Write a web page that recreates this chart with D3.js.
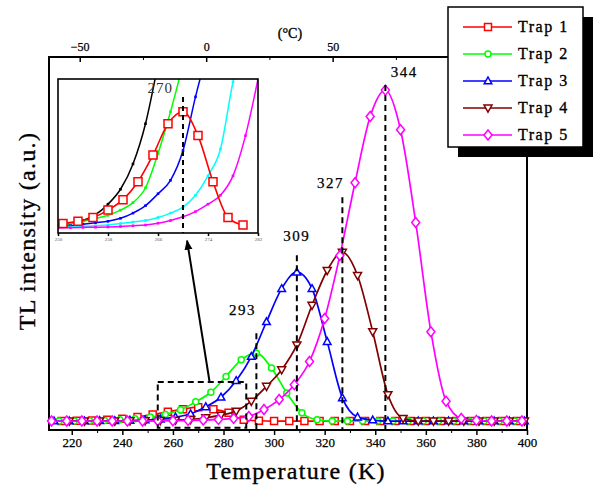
<!DOCTYPE html>
<html>
<head>
<meta charset="utf-8">
<script src="https://cdn.jsdelivr.net/npm/d3@7"></script>
<style>
  html, body { margin: 0; padding: 0; background: #fff; }
  svg { display: block; font-family: "Liberation Serif", "Times New Roman", serif; }
  .heavy { stroke: #000; stroke-width: 0.35px; paint-order: stroke; }
</style>
</head>
<body>
<svg id="chart" width="597" height="495"></svg>
<script>
// ---------- Main panel: TL glow curves, temperature (K) vs intensity (a.u.) ----------
const trap1T = [216,222,228,234,240,246,252,258,264,270,276,282,288,294,300,306,312,318,324,330,336,342,348,354,360,366,372,378,384,390,396];
const trap1I = [0,0.001,0.002,0.004,0.007,0.012,0.02,0.028,0.036,0.042,0.036,0.025,0.004,0.001,0,0,0,0,0,0,0,0,0,0,0,0,0,0,0,0,0];

const trap2T = [215,221,227,233,239,245,251,257,263,269,275,281,287,293,299,305,311,317,323,329,335,341,347,353,359,365,371,377,383,389,395];
const trap2I = [0,0,0.001,0.002,0.004,0.007,0.012,0.02,0.034,0.058,0.087,0.135,0.185,0.205,0.16,0.085,0.025,0.004,0,0,0,0,0,0,0,0,0,0,0,0,0];

const trap3T = [213,219,225,231,237,243,249,255,261,267,273,279,285,291,297,303,309,315,321,327,333,339,345,351,357,363,369,375,381,387,393,399];
const trap3I = [0,0,0,0.001,0.001,0.002,0.003,0.006,0.012,0.022,0.043,0.072,0.122,0.195,0.30,0.40,0.45,0.40,0.24,0.07,0.012,0.003,0,0,0,0,0,0,0,0,0,0];

const trap4T = [219,225,231,237,243,249,255,261,267,273,279,285,291,297,303,309,315,321,327,333,339,345,351,357,363,369,375,381,387,393,399];
const trap4I = [0,0,0,0,0.001,0.001,0.002,0.003,0.005,0.01,0.018,0.03,0.06,0.105,0.155,0.23,0.35,0.455,0.51,0.44,0.27,0.08,0.008,0,0,0,0,0,0,0,0];

const trap5T = [212,218,224,230,236,242,248,254,260,266,272,278,284,290,296,302,308,314,320,326,332,338,344,350,356,362,368,374,380,386,392,398];
const trap5I = [0,0,0,0,0,0,0,0.001,0.001,0.002,0.003,0.005,0.008,0.014,0.035,0.065,0.11,0.18,0.31,0.50,0.72,0.92,1.0,0.88,0.60,0.27,0.06,0.008,0.002,0,0,0];

const seriesNames  = ["Trap 1", "Trap 2", "Trap 3", "Trap 4", "Trap 5"];
const seriesColors = ["#ff0000", "#00ff00", "#0000ff", "#800000", "#ff00ff"];
const seriesShapes = ["square", "circle", "triUp", "triDown", "diamond"];

// peak annotations (index into the series list)
const peakSeries = [1, 2, 3, 4];

const bottomTicks = [220, 240, 260, 280, 300, 320, 340, 360, 380, 400];
const bottomMinor = [230, 250, 270, 290, 310, 330, 350, 370, 390];
const topTicks = [-50, 0, 50, 100];
const topMinor = [-25, 25, 75];

// ---------- Inset: low-temperature region around the Trap 1 peak ----------
const insetTicks = [250, 258, 266, 274, 282];
const insetRedT = [250.8,253.2,255.6,258.0,260.4,262.8,265.2,267.6,270.0,272.4,274.8,277.2,279.6];
const insetRedI = [0.03,0.045,0.07,0.12,0.19,0.31,0.49,0.70,0.78,0.62,0.31,0.07,0.02];
const insetGridT = [250,252,254,256,258,260,262,264,266,268,270,272,274,276,278,280,282];
const insetBlackI   = [0.02,0.03,0.05,0.09,0.16,0.26,0.43,0.70,1.1];
const insetGreenI   = [0.02,0.03,0.045,0.065,0.085,0.12,0.17,0.27,0.50,0.78,1.1];
const insetBlueI    = [0.01,0.015,0.025,0.035,0.045,0.065,0.10,0.15,0.23,0.32,0.52,0.88,1.2];
const insetCyanI    = [0.005,0.007,0.01,0.015,0.02,0.03,0.04,0.05,0.07,0.10,0.14,0.22,0.35,0.53,0.98,1.3];
const insetMagentaI = [0,0.002,0.004,0.005,0.007,0.01,0.015,0.02,0.032,0.05,0.075,0.11,0.16,0.22,0.35,0.62,1.0];
const insetCurveColors = ["#000000", "#00ff00", "#0000ff", "#00ffff", "#ff00ff"];

// zoom box (main-panel data units) and the connector towards the inset
const zoomBoxT = [254, 289];
const zoomBoxI = [-0.02, 0.118];
const connectorT = [274.5, 265.6];
const connectorI = [0.118, 0.545];

// ---------- layout ----------
const svg = d3.select("#chart");
const FONT = '"Liberation Serif", "Times New Roman", serif';

const x = d3.scaleLinear().domain([211, 400]).range([49, 527]);
const y = d3.scaleLinear().domain([-0.027, 1.1]).range([430, 57]);
const xC = d3.scaleLinear().domain([211 - 273.15, 400 - 273.15]).range([49, 527]);

const series = [
  [trap1T, trap1I], [trap2T, trap2I], [trap3T, trap3I], [trap4T, trap4I], [trap5T, trap5I]
].map(([T, I], k) => ({
  name: seriesNames[k], color: seriesColors[k], shape: seriesShapes[k],
  pts: T.map((t, i) => ({ t, v: I[i] }))
}));

function markerPath(shape, s) {
  switch (shape) {
    case "square":  return `M${-s},${-s}h${2*s}v${2*s}h${-2*s}Z`;
    case "diamond": return `M0,${-s*1.25}L${s},0L0,${s*1.25}L${-s},0Z`;
    case "triUp":   return `M0,${-s}L${s*0.95},${s*0.7}L${-s*0.95},${s*0.7}Z`;
    case "triDown": return `M0,${s}L${s*0.95},${-s*0.7}L${-s*0.95},${-s*0.7}Z`;
    default:        return `M${s},0A${s},${s} 0 1,1 ${-s},0A${s},${s} 0 1,1 ${s},0Z`;
  }
}
const markerSize = { square: 3.5, diamond: 4, triUp: 4, triDown: 4.2, circle: 3 };

// axes
const gBottom = svg.append("g").attr("transform", "translate(0,430)")
  .call(d3.axisBottom(x).tickValues(bottomTicks).tickSize(5).tickPadding(3).tickFormat(d3.format("d")));
svg.append("g").attr("transform", "translate(0,430)")
  .call(d3.axisBottom(x).tickValues(bottomMinor).tickSize(3).tickFormat(""))
  .select(".domain").remove();
gBottom.select(".domain").remove();
gBottom.selectAll("text").attr("font-family", FONT).attr("font-size", 13).attr("fill", "#000")
  .attr("class", "heavy").style("stroke-width", "0.25px");
gBottom.selectAll("line").attr("stroke-width", 1.5);

const gTop = svg.append("g").attr("transform", "translate(0,57)")
  .call(d3.axisTop(xC).tickValues(topTicks).tickSize(-5).tickPadding(6).tickFormat(d3.format("d")));
svg.append("g").attr("transform", "translate(0,57)")
  .call(d3.axisTop(xC).tickValues(topMinor).tickSize(-3).tickFormat(""))
  .select(".domain").remove();
gTop.select(".domain").remove();
gTop.selectAll("text").attr("font-family", FONT).attr("font-size", 12).attr("fill", "#000")
  .attr("class", "heavy").style("stroke-width", "0.25px");
gTop.selectAll("line").attr("stroke-width", 1.5);

svg.append("text").attr("x", 290).attr("y", 38).attr("text-anchor", "middle")
  .attr("font-family", FONT).attr("font-size", 14).attr("class", "heavy").text("(°C)");

// plot frame
svg.append("rect").attr("x", 49).attr("y", 57).attr("width", 478).attr("height", 373)
  .attr("fill", "none").attr("stroke", "#000").attr("stroke-width", 2);

// axis titles
svg.append("text").attr("x", 296).attr("y", 479).attr("text-anchor", "middle")
  .attr("font-family", FONT).attr("font-size", 24).attr("letter-spacing", 1.3)
  .attr("class", "heavy").text("Temperature (K)");
svg.append("text").attr("transform", "translate(35,231) rotate(-90)").attr("text-anchor", "middle")
  .attr("font-family", FONT).attr("font-size", 24).attr("letter-spacing", 1.3)
  .attr("class", "heavy").text("TL intensity (a.u.)");

// curves
const line = d3.line().x(d => x(d.t)).y(d => y(d.v)).curve(d3.curveMonotoneX);
const gCurves = svg.append("g");
series.forEach(s => {
  gCurves.append("path").attr("d", line(s.pts)).attr("fill", "none")
    .attr("stroke", s.color).attr("stroke-width", 1.7);
  gCurves.selectAll(null).data(s.pts).enter().append("path")
    .attr("transform", d => `translate(${x(d.t)},${y(d.v)})`)
    .attr("d", markerPath(s.shape, markerSize[s.shape]))
    .attr("fill", "#fff").attr("stroke", s.color).attr("stroke-width", 1.5);
});

// peak markers: dashed drop lines and labels
const labelOffset = { 1: [-14, -38, -20], 2: [0, -31, -17], 3: [-12, -64, -55], 4: [19, -13, -5] };
peakSeries.forEach(k => {
  const p = series[k].pts.reduce((a, b) => (b.v > a.v ? b : a));
  const [dx, dy, dTop] = labelOffset[k];
  svg.append("line").attr("x1", x(p.t)).attr("x2", x(p.t))
    .attr("y1", y(p.v) + dTop).attr("y2", 430)
    .attr("stroke", "#000").attr("stroke-width", 2).attr("stroke-dasharray", "6,4");
  svg.append("text").attr("x", x(p.t) + dx).attr("y", y(p.v) + dy)
    .attr("text-anchor", "middle").attr("font-family", FONT).attr("font-size", 15)
    .attr("letter-spacing", 1.5).attr("class", "heavy").style("stroke-width", "0.25px")
    .text(d3.format("d")(p.t));
});

// zoom box and connector
svg.append("rect")
  .attr("x", x(zoomBoxT[0])).attr("y", y(zoomBoxI[1]))
  .attr("width", x(zoomBoxT[1]) - x(zoomBoxT[0])).attr("height", y(zoomBoxI[0]) - y(zoomBoxI[1]))
  .attr("fill", "none").attr("stroke", "#000").attr("stroke-width", 2).attr("stroke-dasharray", "6,4");
svg.append("defs").append("marker").attr("id", "arrow")
  .attr("viewBox", "0 0 10 10").attr("refX", 9).attr("refY", 5)
  .attr("markerWidth", 5).attr("markerHeight", 5).attr("orient", "auto")
  .append("path").attr("d", "M0,1L10,5L0,9Z").attr("fill", "#000");
svg.append("line")
  .attr("x1", x(connectorT[0])).attr("y1", y(connectorI[0]))
  .attr("x2", x(connectorT[1])).attr("y2", y(connectorI[1]))
  .attr("stroke", "#000").attr("stroke-width", 2).attr("marker-end", "url(#arrow)");

// ---------- inset ----------
const ix = d3.scaleLinear().domain([250, 282]).range([58, 258]);
const iy = d3.scaleLinear().domain([0, 1]).range([228, 79]);
const inset = svg.append("g");
svg.select("defs").append("clipPath").attr("id", "insetClip")
  .append("rect").attr("x", 58).attr("y", 79).attr("width", 200).attr("height", 154);
inset.append("rect").attr("x", 58).attr("y", 79).attr("width", 200).attr("height", 154)
  .attr("fill", "#fff");

const iLine = d3.line().x(d => ix(d.t)).y(d => iy(d.v)).curve(d3.curveMonotoneX);
const gIn = inset.append("g").attr("clip-path", "url(#insetClip)");
[insetBlackI, insetGreenI, insetBlueI, insetCyanI, insetMagentaI].forEach((vals, k) => {
  const pts = vals.map((v, i) => ({ t: insetGridT[i], v }));
  gIn.append("path").attr("d", iLine(pts)).attr("fill", "none")
    .attr("stroke", insetCurveColors[k]).attr("stroke-width", 1.5);
  gIn.selectAll(null).data(pts).enter().append("rect")
    .attr("x", d => ix(d.t) - 1.3).attr("y", d => iy(d.v) - 1.3)
    .attr("width", 2.6).attr("height", 2.6).attr("fill", insetCurveColors[k]);
});
const redPts = insetRedT.map((t, i) => ({ t, v: insetRedI[i] }));
gIn.append("path").attr("d", iLine(redPts)).attr("fill", "none")
  .attr("stroke", "#ff0000").attr("stroke-width", 1.6);
gIn.selectAll(null).data(redPts).enter().append("path")
  .attr("transform", d => `translate(${ix(d.t)},${iy(d.v)})`)
  .attr("d", markerPath("square", 4)).attr("fill", "#fff")
  .attr("stroke", "#ff0000").attr("stroke-width", 1.5);

const redPeak = redPts.reduce((a, b) => (b.v > a.v ? b : a));
inset.append("line").attr("x1", ix(redPeak.t)).attr("x2", ix(redPeak.t))
  .attr("y1", 97).attr("y2", 233)
  .attr("stroke", "#000").attr("stroke-width", 2).attr("stroke-dasharray", "5,4");
inset.append("text").attr("x", ix(redPeak.t) - 10).attr("y", 93).attr("text-anchor", "end")
  .attr("font-family", FONT).attr("font-size", 15).attr("letter-spacing", 1)
  .attr("fill", "#333").text(d3.format("d")(redPeak.t));

const gIAxis = inset.append("g").attr("transform", "translate(0,233)")
  .call(d3.axisBottom(ix).tickValues(insetTicks).tickSize(3).tickPadding(1).tickFormat(d3.format("d")));
gIAxis.select(".domain").remove();
gIAxis.selectAll("text").attr("font-family", FONT).attr("font-size", 5).attr("fill", "#555");
gIAxis.selectAll("line").attr("stroke-width", 1.5);
inset.append("rect").attr("x", 58).attr("y", 79).attr("width", 200).attr("height", 154)
  .attr("fill", "none").attr("stroke", "#000").attr("stroke-width", 1.6);

// ---------- legend ----------
const lg = svg.append("g");
lg.append("rect").attr("x", 458).attr("y", 17).attr("width", 135).attr("height", 140).attr("fill", "#000");
lg.append("rect").attr("x", 448).attr("y", 7).attr("width", 135).attr("height", 140)
  .attr("fill", "#fff").attr("stroke", "#000").attr("stroke-width", 1.5);
series.forEach((s, i) => {
  const ly = 27 + i * 27;
  lg.append("line").attr("x1", 463).attr("x2", 512).attr("y1", ly).attr("y2", ly)
    .attr("stroke", s.color).attr("stroke-width", 1.7);
  lg.append("path").attr("transform", `translate(488,${ly})`)
    .attr("d", markerPath(s.shape, markerSize[s.shape]))
    .attr("fill", "#fff").attr("stroke", s.color).attr("stroke-width", 1.5);
  lg.append("text").attr("x", 518).attr("y", ly + 5)
    .attr("font-family", FONT).attr("font-size", 16).attr("letter-spacing", 1.5)
    .attr("class", "heavy").text(s.name);
});
</script>
</body>
</html>
